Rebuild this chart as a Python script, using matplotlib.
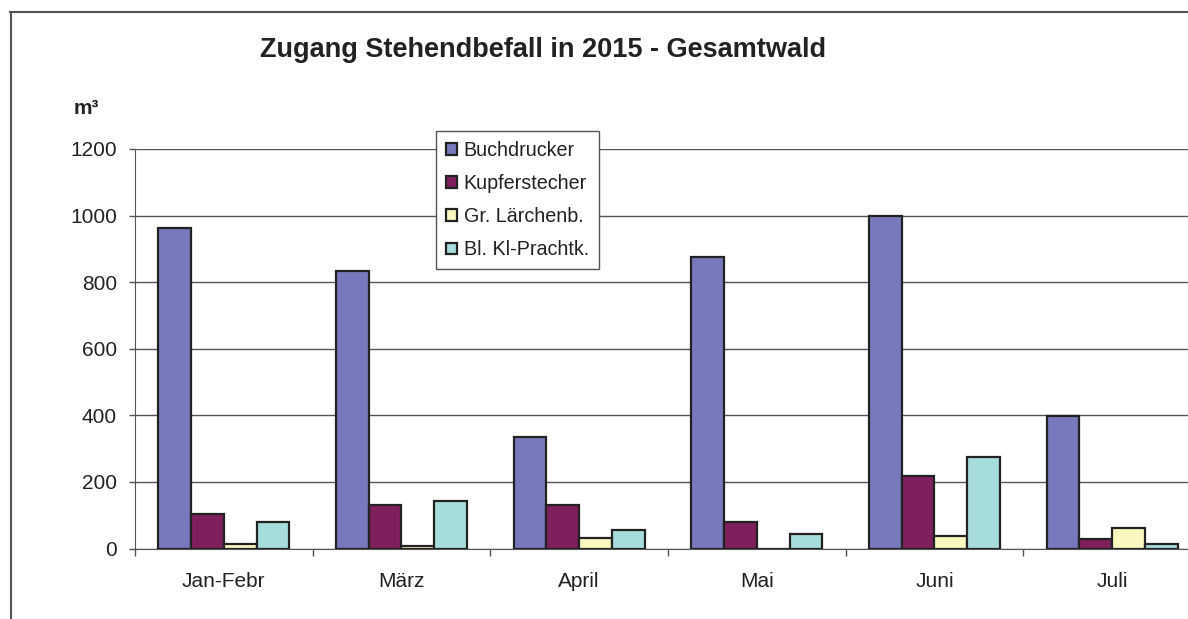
import matplotlib
matplotlib.use("Agg")
import matplotlib.pyplot as plt
import numpy as np
from matplotlib.lines import Line2D

plt.rcParams['font.family'] = ['Liberation Sans', 'DejaVu Sans']

categories = ["Jan-Febr", "März", "April", "Mai", "Juni", "Juli"]
series_names = ["Buchdrucker", "Kupferstecher", "Gr. Lärchenb.", "Bl. Kl-Prachtk."]
buchdrucker = [963, 834, 336, 876, 999, 398]
kupferstecher = [105, 131, 132, 80, 219, 29]
laerchenb = [14, 8, 31, 0, 39, 61]
prachtk = [79, 142, 55, 44, 275, 14]
yticks = [0, 200, 400, 600, 800, 1000, 1200]
title = "Zugang Stehendbefall in 2015 - Gesamtwald"
unit = "m³"

colors = ["#7878BC", "#7F1F5C", "#FAF8C0", "#A6DCDC"]
series = [buchdrucker, kupferstecher, laerchenb, prachtk]

W, H = 1188, 619
fig = plt.figure(figsize=(W / 100, H / 100), dpi=100)
ax = fig.add_axes([135 / W, 70.5 / H, 1066 / W, (470 - 70.5) / H])

x = np.arange(len(categories))
bw = 0.184
for i, (vals, c, name) in enumerate(zip(series, colors, series_names)):
    ax.bar(x + (i - 1.5) * bw, vals, width=bw, color=c, edgecolor="#222222",
           linewidth=1.6, label=name, zorder=3)

ax.set_xlim(-0.5, len(categories) - 0.5)
ax.set_ylim(0, 1200)
ax.set_yticks(yticks)
ax.set_yticklabels([str(v) for v in yticks], fontsize=15, color="#222222")
ax.yaxis.grid(True, color="#555555", linewidth=1.0, zorder=0)
ax.set_axisbelow(True)

ax.set_xticks(x)
ax.set_xticklabels(categories, fontsize=15, color="#222222")
ax.set_xticks(np.arange(-0.5, len(categories) + 0.5, 1), minor=True)
ax.tick_params(axis="x", which="major", length=0, pad=17)
ax.tick_params(axis="x", which="minor", length=5, color="#555555", width=1)
ax.tick_params(axis="y", length=4, color="#555555", width=1, pad=9)

for s in ["top", "right"]:
    ax.spines[s].set_visible(False)
ax.spines["left"].set_color("#555555")
ax.spines["bottom"].set_color("#555555")

leg = fig.legend(loc="upper left", bbox_to_anchor=(436 / W, 1 - 131 / H),
                 bbox_transform=fig.transFigure, borderaxespad=0,
                 fontsize=14.2, frameon=True, fancybox=False, framealpha=1,
                 edgecolor="#555555", handlelength=0.55, handleheight=0.55,
                 handletextpad=0.35, labelspacing=0.72, borderpad=0.5)
leg.get_frame().set_linewidth(1.0)
for t in leg.get_texts():
    t.set_color("#222222")

fig.text(543 / W, 1 - 50 / H, title, ha="center", va="center",
         fontsize=19.5, fontweight="bold", color="#222222")
fig.text(74 / W, 1 - 108 / H, unit, ha="left", va="center",
         fontsize=15, fontweight="bold", color="#222222")

fig.add_artist(Line2D([10 / W, 1.0], [1 - 12 / H, 1 - 12 / H],
                      transform=fig.transFigure, color="#555555", linewidth=1.5))
fig.add_artist(Line2D([11 / W, 11 / W], [1 - 12 / H, 0],
                      transform=fig.transFigure, color="#555555", linewidth=1.5))

fig.savefig("out.png", dpi=100)
